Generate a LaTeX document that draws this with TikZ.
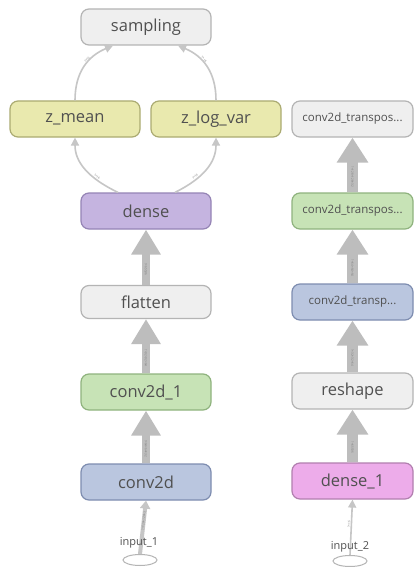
\documentclass[tikz,border=0pt]{standalone}
\usepackage{fontspec}
\setmainfont{Open Sans}
\usetikzlibrary{arrows.meta,shapes.geometric,calc}

\definecolor{txt}{HTML}{505050}
\definecolor{greyfill}{HTML}{EFEFEF}
\definecolor{greyline}{HTML}{B4B4B4}
\definecolor{yelfill}{HTML}{E9E9AE}
\definecolor{yelline}{HTML}{ABAB72}
\definecolor{purfill}{HTML}{C5B4E0}
\definecolor{purline}{HTML}{9584B5}
\definecolor{grnfill}{HTML}{C7E3B6}
\definecolor{grnline}{HTML}{8FB37E}
\definecolor{blufill}{HTML}{BAC6DF}
\definecolor{bluline}{HTML}{7E8DB0}
\definecolor{pinkfill}{HTML}{EDACEA}
\definecolor{pinkline}{HTML}{B27FAF}
\definecolor{fatedge}{HTML}{BDBDBD}
\definecolor{thinedge}{HTML}{C6C6C6}
\definecolor{labtxt}{HTML}{7A7A7A}

\tikzset{
  layer/.style={rounded corners=8pt, line width=1.2pt, minimum width=130pt,
    minimum height=36pt, inner sep=0pt, text=txt,
    font=\fontsize{16.5}{17}\selectfont},
  narrow/.style={layer, minimum width=121pt, font=\fontsize{11.5}{12}\selectfont},
  greyl/.style={fill=greyfill, draw=greyline},
  yell/.style={fill=yelfill, draw=yelline},
  purl/.style={fill=purfill, draw=purline},
  grnl/.style={fill=grnfill, draw=grnline},
  blul/.style={fill=blufill, draw=bluline},
  pinkl/.style={fill=pinkfill, draw=pinkline},
  inputnode/.style={ellipse, draw=greyline, fill=white, line width=1pt,
    minimum width=34pt, minimum height=11pt, inner sep=0pt},
  inputlab/.style={text=txt, font=\fontsize{11}{11}\selectfont, inner sep=0pt},
  fat/.style={draw=fatedge, line width=8pt, -{Triangle[width=28pt,length=25pt]}},
  fatwide/.style={draw=fatedge, line width=11pt, -{Triangle[width=30pt,length=25pt]}},
  thin/.style={draw=thinedge, line width=1.6pt, -{Triangle[width=8pt,length=8pt]}},
  feed/.style={draw=thinedge, line width=4pt, -{Triangle[width=10pt,length=8pt]}},
  feedthin/.style={draw=thinedge, line width=1.6pt, -{Triangle[width=8pt,length=8pt]}},
  edgelab/.style={text=labtxt, font=\fontsize{3}{3}\selectfont, inner sep=0pt},
}

\begin{document}
\begin{tikzpicture}[x=1pt, y=-1pt]
\useasboundingbox[fill=white] (0,0) rectangle (415,567);

% encoder column
\node[layer, greyl] (sampling) at (146,27)  {sampling};
\node[layer, yell]  (zmean)    at (75,119)  {z\_mean};
\node[layer, yell]  (zlogvar)  at (216,119) {z\_log\_var};
\node[layer, purl]  (dense)    at (146,211) {dense};
\node[layer, greyl, minimum height=33pt] (flatten) at (146,302) {flatten};
\node[layer, grnl]  (conv1)    at (146,392) {conv2d\_1};
\node[layer, blul]  (conv0)    at (146,482) {conv2d};
\node[inputnode]    (in1)      at (140,560) {};

% decoder column
\node[narrow, greyl] (tr3)     at (352.5,119) {conv2d\_transpos...};
\node[narrow, grnl]  (tr2)     at (352.5,211) {conv2d\_transpos...};
\node[narrow, blul]  (tr1)     at (352.5,302) {conv2d\_transp...};
\node[layer, greyl, minimum width=121pt] (reshape) at (352.5,391) {reshape};
\node[layer, pinkl, minimum width=121pt] (dense1)  at (352.5,481) {dense\_1};
\node[inputnode]     (in2)     at (350,561) {};

% wide tensor edges
\draw[fat] (conv0.north) -- (conv1.south)
  node[edgelab, pos=0.28, rotate=-90] {?×64×64×32};
\draw[fat] (conv1.north) -- (flatten.south)
  node[edgelab, pos=0.28, rotate=-90] {?×32×32×64};
\draw[fat] (flatten.north) -- (dense.south)
  node[edgelab, pos=0.28, rotate=-90] {?×65536};
\draw[fatwide] (dense1.north) -- (reshape.south)
  node[edgelab, pos=0.28, rotate=-90] {?×65536};
\draw[fatwide] (reshape.north) -- (tr1.south)
  node[edgelab, pos=0.28, rotate=-90] {?×32×32×64};
\draw[fatwide] (tr1.north) -- (tr2.south)
  node[edgelab, pos=0.28, rotate=-90] {?×64×64×64};
\draw[fatwide] (tr2.north) -- (tr3.south)
  node[edgelab, pos=0.28, rotate=-90] {?×128×128×32};

% input edges
\draw[feed] (in1.north) -- (conv0.south)
  node[edgelab, pos=0.62, sloped] {?×128×128×3};
\node[inputlab] (in1lab) at (139,543) {input\_1};
\draw[feedthin] (in2.north) -- (dense1.south)
  node[edgelab, pos=0.55, sloped, above=0.5pt] {?×16};
\node[inputlab] (in2lab) at (350,547) {input\_2};

% branches from dense into the two heads and on to sampling
\draw[thin] ($(dense.north)+(-28,0)$) .. controls (88,178) and (75,162) .. (zmean.south)
  node[edgelab, pos=0.3, sloped, above=0.6pt] {?×16};
\draw[thin] ($(dense.north)+(29,0)$) .. controls (204,178) and (216,162) .. (zlogvar.south)
  node[edgelab, pos=0.3, sloped, above=0.6pt] {?×16};
\draw[thin] (zmean.north) .. controls (75,72) and (88,56) .. ($(sampling.south)+(-33,0)$)
  node[edgelab, pos=0.6, sloped, above=0.6pt] {?×16};
\draw[thin] (zlogvar.north) .. controls (216,72) and (203,56) .. ($(sampling.south)+(32,0)$)
  node[edgelab, pos=0.6, sloped, above=0.6pt] {?×16};
\end{tikzpicture}
\end{document}
